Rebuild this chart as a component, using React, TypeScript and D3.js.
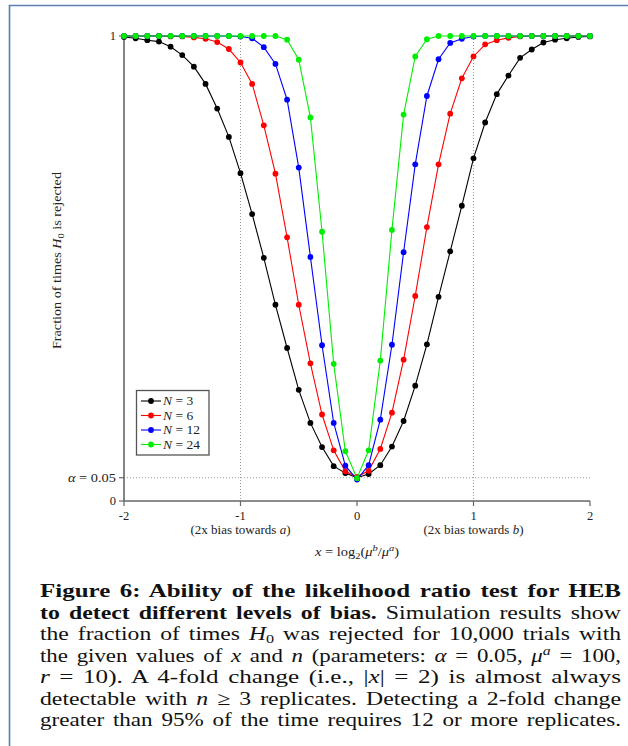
import React from 'react';
import * as d3 from 'd3';

const xValues = [-2, -1.9, -1.8, -1.7, -1.6, -1.5, -1.4, -1.3, -1.2, -1.1, -1, -0.9, -0.8, -0.7, -0.6, -0.5, -0.4, -0.3, -0.2, -0.1, 0, 0.1, 0.2, 0.3, 0.4, 0.5, 0.6, 0.7, 0.8, 0.9, 1, 1.1, 1.2, 1.3, 1.4, 1.5, 1.6, 1.7, 1.8, 1.9, 2];

const n3 = [0.998, 0.995, 0.991, 0.988, 0.977, 0.959, 0.934, 0.897, 0.844, 0.783, 0.705, 0.617, 0.523, 0.422, 0.329, 0.239, 0.168, 0.116, 0.075, 0.06, 0.05, 0.058, 0.077, 0.117, 0.172, 0.248, 0.337, 0.439, 0.537, 0.635, 0.737, 0.814, 0.875, 0.915, 0.953, 0.971, 0.986, 0.992, 0.995, 0.998, 0.999];
const n6 = [1, 1, 1, 1, 0.999, 0.999, 0.997, 0.994, 0.987, 0.972, 0.943, 0.897, 0.808, 0.704, 0.567, 0.422, 0.296, 0.186, 0.109, 0.064, 0.052, 0.065, 0.112, 0.19, 0.304, 0.441, 0.589, 0.724, 0.833, 0.909, 0.956, 0.982, 0.991, 0.996, 0.999, 1, 1, 1, 1, 1, 1];
const n12 = [1, 1, 1, 1, 1, 1, 1, 1, 1, 1, 0.999, 0.995, 0.976, 0.94, 0.863, 0.717, 0.525, 0.335, 0.168, 0.076, 0.046, 0.077, 0.175, 0.336, 0.535, 0.724, 0.871, 0.95, 0.985, 0.994, 0.999, 1, 1, 1, 1, 1, 1, 1, 1, 1, 1];
const n24 = [1, 1, 1, 1, 1, 1, 1, 1, 1, 1, 1, 1, 1, 1, 0.992, 0.949, 0.825, 0.579, 0.295, 0.107, 0.049, 0.109, 0.302, 0.583, 0.831, 0.956, 0.993, 1, 1, 1, 1, 1, 1, 1, 1, 1, 1, 1, 1, 1, 1];

const seriesValues = [n3, n6, n12, n24];
const seriesLabels = ['3', '6', '12', '24'];
const seriesColors = ['#000000', '#ff0000', '#0000ff', '#00ee00'];

const xTicks = [-2, -1, 0, 1, 2];
const xTickLabels = ['-2', '-1', '0', '1', '2'];
const yTicks = [1, 0.05, 0];
const alphaLevel = 0.05;
const guideXs = [-1, 1];
const guideLabels = ['a', 'b'];

const serif = '"Liberation Serif", "Times New Roman", serif';

export default function App() {
  const x = d3.scaleLinear().domain([-2, 2]).range([124, 590]);
  const y = d3.scaleLinear().domain([0, 1]).range([501, 36]);
  const line = d3
    .line<number>()
    .x((_, i) => x(xValues[i]))
    .y((d) => y(d));

  const axisColor = '#666';
  const dotColor = '#999';
  const capW = 581;
  const adj = 'spacingAndGlyphs';

  return (
    <svg
      width={628}
      height={746}
      style={{ position: 'absolute', left: 0, top: 0, background: '#fff' }}
      fontFamily={serif}
    >
      {/* page frame */}
      <path d="M9.5,746 V5.5 H628" fill="none" stroke="#5b7fae" strokeWidth={1.6} />

      {/* guides */}
      {guideXs.map((g) => (
        <line
          key={g}
          x1={x(g)}
          x2={x(g)}
          y1={y(1)}
          y2={y(0)}
          stroke={dotColor}
          strokeWidth={1}
          strokeDasharray="1,2"
        />
      ))}
      <line
        x1={x(-2)}
        x2={x(2)}
        y1={y(alphaLevel)}
        y2={y(alphaLevel)}
        stroke={dotColor}
        strokeWidth={1}
        strokeDasharray="1,2"
      />

      {/* axes */}
      <line x1={x(-2)} x2={x(-2)} y1={y(1)} y2={y(0)} stroke={axisColor} strokeWidth={1.6} />
      <line x1={x(-2)} x2={x(2)} y1={y(0)} y2={y(0)} stroke={axisColor} strokeWidth={1.6} />
      {yTicks.map((t) => (
        <line key={t} x1={x(-2) - 5} x2={x(-2)} y1={y(t)} y2={y(t)} stroke={axisColor} strokeWidth={1.2} />
      ))}
      {xTicks.map((t) => (
        <line key={t} x1={x(t)} x2={x(t)} y1={y(0)} y2={y(0) + 5} stroke={axisColor} strokeWidth={1.2} />
      ))}

      {/* y tick labels */}
      <text x={x(-2) - 8} y={y(1) + 4} fontSize={12.5} textAnchor="end" fill="#222">1</text>
      <text x={x(-2) - 56} y={y(alphaLevel) + 4} fontSize={12.5} fill="#222" textLength={48} lengthAdjust={adj}>
        <tspan fontStyle="italic">α</tspan>
        <tspan> = 0.05</tspan>
      </text>
      <text x={x(-2) - 8} y={y(0) + 4} fontSize={12.5} textAnchor="end" fill="#222">0</text>

      {/* x tick labels */}
      {xTicks.map((t, i) => (
        <text key={t} x={x(t)} y={y(0) + 19} fontSize={12.5} textAnchor="middle" fill="#222">
          {xTickLabels[i]}
        </text>
      ))}
      {guideXs.map((g, i) => (
        <text
          key={g}
          x={x(g) - 50}
          y={y(0) + 33}
          fontSize={12.5}
          fill="#222"
          textLength={100}
          lengthAdjust={adj}
        >
          <tspan>(2x bias towards </tspan>
          <tspan fontStyle="italic">{guideLabels[i]}</tspan>
          <tspan>)</tspan>
        </text>
      ))}
      <text x={x(0) - 42} y={y(0) + 55} fontSize={12.5} fill="#222" textLength={84} lengthAdjust={adj}>
        <tspan fontStyle="italic">x</tspan>
        <tspan> = log</tspan>
        <tspan fontSize={9} dy={3}>2</tspan>
        <tspan dy={-3}>(</tspan>
        <tspan fontStyle="italic">μ</tspan>
        <tspan fontSize={9} fontStyle="italic" dy={-5}>b</tspan>
        <tspan dy={5}>/</tspan>
        <tspan fontStyle="italic">μ</tspan>
        <tspan fontSize={9} fontStyle="italic" dy={-5}>a</tspan>
        <tspan dy={5}>)</tspan>
      </text>

      {/* y axis label */}
      <text
        transform={`translate(61,${(y(1) + y(0)) / 2 - 8}) rotate(-90)`}
        x={-88.5}
        fontSize={11.5}
        fill="#222"
        textLength={177}
        lengthAdjust={adj}
      >
        <tspan>Fraction of times </tspan>
        <tspan fontStyle="italic">H</tspan>
        <tspan fontSize={8.5} dy={3}>0</tspan>
        <tspan dy={-3}> is rejected</tspan>
      </text>

      {/* series */}
      {seriesValues.map((vals, si) => (
        <g key={si}>
          <path d={line(vals) || ''} fill="none" stroke={seriesColors[si]} strokeWidth={1.1} />
          {vals.map((v, i) => (
            <circle key={i} cx={x(xValues[i])} cy={y(v)} r={2.9} fill={seriesColors[si]} />
          ))}
        </g>
      ))}

      {/* legend */}
      <g>
        <rect x={136.5} y={390.5} width={72.5} height={64.5} fill="#fff" stroke="#555" strokeWidth={1.3} />
        {seriesLabels.map((lab, i) => {
          const ly = 401 + i * 14.5;
          return (
            <g key={lab}>
              <line x1={141} x2={161} y1={ly} y2={ly} stroke={seriesColors[i]} strokeWidth={1.1} />
              <circle cx={151} cy={ly} r={2.9} fill={seriesColors[i]} />
              <text x={163} y={ly + 4} fontSize={13.5} fill="#222">
                <tspan fontStyle="italic">N</tspan>
                <tspan>{' = ' + lab}</tspan>
              </text>
            </g>
          );
        })}
      </g>

      {/* caption */}
      <g fontSize={19} fill="#111" wordSpacing={2.5}>
        <text x={40} y={597} textLength={capW} lengthAdjust={adj} fontWeight="bold">
          Figure 6:  Ability of the likelihood ratio test for HEB
        </text>
        <text x={40} y={618.5} textLength={capW} lengthAdjust={adj}>
          <tspan fontWeight="bold">to detect different levels of bias.</tspan>
          <tspan> Simulation results show</tspan>
        </text>
        <text x={40} y={640} textLength={capW} lengthAdjust={adj}>
          <tspan>the fraction of times </tspan>
          <tspan fontStyle="italic">H</tspan>
          <tspan fontSize={13} dy={3}>0</tspan>
          <tspan dy={-3}> was rejected for 10,000 trials with</tspan>
        </text>
        <text x={40} y={661.5} textLength={capW} lengthAdjust={adj}>
          <tspan>the given values of </tspan>
          <tspan fontStyle="italic">x</tspan>
          <tspan> and </tspan>
          <tspan fontStyle="italic">n</tspan>
          <tspan> (parameters: </tspan>
          <tspan fontStyle="italic">α</tspan>
          <tspan> = 0.05, </tspan>
          <tspan fontStyle="italic">μ</tspan>
          <tspan fontSize={13} fontStyle="italic" dy={-7}>a</tspan>
          <tspan dy={7}> = 100,</tspan>
        </text>
        <text x={40} y={683} textLength={capW} lengthAdjust={adj}>
          <tspan fontStyle="italic">r</tspan>
          <tspan> = 10). A 4-fold change (i.e., |</tspan>
          <tspan fontStyle="italic">x</tspan>
          <tspan>| = 2) is almost always</tspan>
        </text>
        <text x={40} y={704.5} textLength={capW} lengthAdjust={adj}>
          <tspan>detectable with </tspan>
          <tspan fontStyle="italic">n</tspan>
          <tspan> ≥ 3 replicates. Detecting a 2-fold change</tspan>
        </text>
        <text x={40} y={726} textLength={capW} lengthAdjust={adj}>
          greater than 95% of the time requires 12 or more replicates.
        </text>
      </g>
    </svg>
  );
}
